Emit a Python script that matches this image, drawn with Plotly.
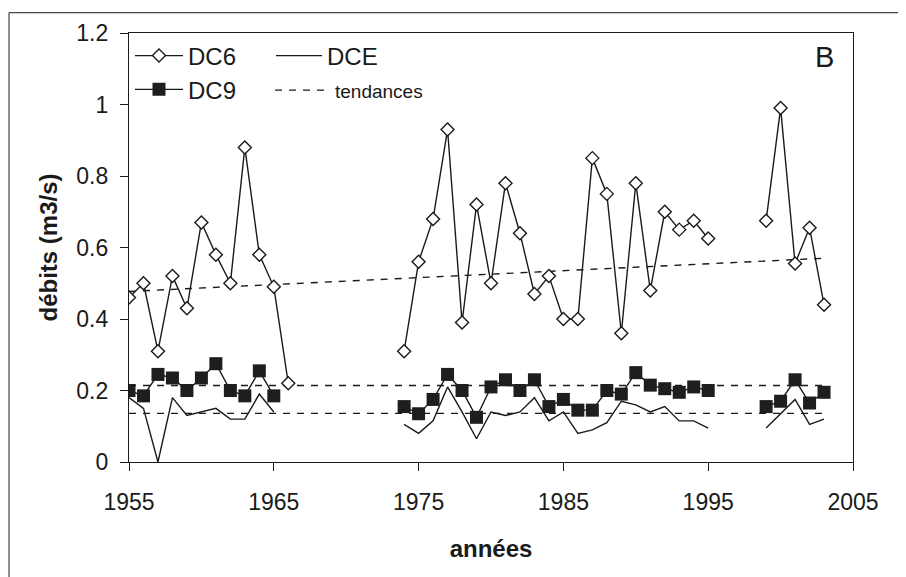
import plotly.graph_objects as go

# ---- data ----
years = list(range(1955, 2004))

dc6_vals = {
    1955: 0.46, 1956: 0.50, 1957: 0.31, 1958: 0.52, 1959: 0.43, 1960: 0.67,
    1961: 0.58, 1962: 0.50, 1963: 0.88, 1964: 0.58, 1965: 0.49, 1966: 0.22,
    1974: 0.31, 1975: 0.56, 1976: 0.68, 1977: 0.93, 1978: 0.39, 1979: 0.72,
    1980: 0.50, 1981: 0.78, 1982: 0.64, 1983: 0.47, 1984: 0.52, 1985: 0.40,
    1986: 0.40, 1987: 0.85, 1988: 0.75, 1989: 0.36, 1990: 0.78, 1991: 0.48,
    1992: 0.70, 1993: 0.65, 1994: 0.675, 1995: 0.625,
    1999: 0.675, 2000: 0.99, 2001: 0.555, 2002: 0.655, 2003: 0.44,
}
dc9_vals = {
    1955: 0.20, 1956: 0.185, 1957: 0.245, 1958: 0.235, 1959: 0.20, 1960: 0.235,
    1961: 0.275, 1962: 0.20, 1963: 0.185, 1964: 0.255, 1965: 0.185,
    1974: 0.155, 1975: 0.135, 1976: 0.175, 1977: 0.245, 1978: 0.20, 1979: 0.125,
    1980: 0.21, 1981: 0.23, 1982: 0.20, 1983: 0.23, 1984: 0.155, 1985: 0.175,
    1986: 0.145, 1987: 0.145, 1988: 0.20, 1989: 0.19, 1990: 0.25, 1991: 0.215,
    1992: 0.205, 1993: 0.195, 1994: 0.21, 1995: 0.20,
    1999: 0.155, 2000: 0.17, 2001: 0.23, 2002: 0.165, 2003: 0.195,
}
dce_vals = {
    1955: 0.18, 1956: 0.15, 1957: 0.0, 1958: 0.18, 1959: 0.13, 1960: 0.14,
    1961: 0.15, 1962: 0.12, 1963: 0.12, 1964: 0.19, 1965: 0.14,
    1974: 0.105, 1975: 0.08, 1976: 0.115, 1977: 0.21, 1978: 0.14, 1979: 0.065,
    1980: 0.14, 1981: 0.13, 1982: 0.14, 1983: 0.18, 1984: 0.115, 1985: 0.14,
    1986: 0.08, 1987: 0.09, 1988: 0.11, 1989: 0.17, 1990: 0.16, 1991: 0.14,
    1992: 0.155, 1993: 0.115, 1994: 0.115, 1995: 0.095,
    1999: 0.095, 2000: 0.135, 2001: 0.175, 2002: 0.105, 2003: 0.12,
}
dc6 = [dc6_vals.get(y) for y in years]
dc9 = [dc9_vals.get(y) for y in years]
dce = [dce_vals.get(y) for y in years]

trend_years = [1955, 2003]
trend_dc6 = [0.477, 0.570]
trend_dc9 = [0.214, 0.214]
trend_dce = [0.136, 0.136]

x_ticks = [1955, 1965, 1975, 1985, 1995, 2005]
y_ticks = [0, 0.2, 0.4, 0.6, 0.8, 1.0, 1.2]
y_ticktext = ["0", "0.2", "0.4", "0.6", "0.8", "1", "1.2"]

INK = "#1a1a1a"
FONT = "Liberation Sans, Arial, sans-serif"

fig = go.Figure()

# trend lines
dash = "7px,7px"
fig.add_trace(go.Scatter(x=trend_years, y=trend_dc6, mode="lines", name="tendances",
                         line=dict(color=INK, width=1.4, dash=dash),
                         legend="legend3", showlegend=True, hoverinfo="skip"))
fig.add_trace(go.Scatter(x=trend_years, y=trend_dc9, mode="lines", name="tendances",
                         line=dict(color=INK, width=1.4, dash=dash),
                         showlegend=False, hoverinfo="skip"))
fig.add_trace(go.Scatter(x=trend_years, y=trend_dce, mode="lines", name="tendances",
                         line=dict(color=INK, width=1.4, dash=dash),
                         showlegend=False, hoverinfo="skip"))

# DCE
fig.add_trace(go.Scatter(x=years, y=dce, mode="lines", name="DCE",
                         line=dict(color=INK, width=1.4),
                         connectgaps=False, legend="legend2"))
# DC9
fig.add_trace(go.Scatter(x=years, y=dc9, mode="lines+markers", name="DC9",
                         line=dict(color=INK, width=1.4),
                         marker=dict(symbol="square", size=13, color="#1e1e1e",
                                     line=dict(color="#1e1e1e", width=0)),
                         connectgaps=False, legend="legend4"))
# DC6
fig.add_trace(go.Scatter(x=years, y=dc6, mode="lines+markers", name="DC6",
                         line=dict(color=INK, width=1.4),
                         marker=dict(symbol="diamond", size=10, color="white",
                                     line=dict(color=INK, width=1.4)),
                         connectgaps=False, legend="legend"))

# page body has an 8px margin: figure is drawn 8px right/down
OFF = 8
W, H = 906 - OFF, 577 - OFF
L, R, T, B = 129 - OFF, 53, 30.5 - OFF, 114.5
pw = W - L - R
ph = H - T - B

def px_x(x):  # x in reference-screen pixels -> paper
    return (x - OFF - L) / pw

def px_y(y):  # y in reference-screen pixels -> paper
    return (H - B - (y - OFF)) / ph

shapes = [
    dict(type="line", xref="paper", yref="paper", x0=px_x(9), x1=px_x(910),
         y0=px_y(10), y1=px_y(10), line=dict(color="#444", width=1.2)),
    dict(type="line", xref="paper", yref="paper", x0=px_x(9), x1=px_x(9),
         y0=px_y(10), y1=px_y(580), line=dict(color="#444", width=1.2)),
]

def leg(x, y, size, iw):
    return dict(x=px_x(x), y=px_y(y), xanchor="left", yanchor="top",
                bgcolor="rgba(0,0,0,0)", font=dict(size=size, family=FONT, color=INK),
                itemwidth=iw)

fig.update_layout(
    width=W, height=H,
    margin=dict(l=L, r=R, t=T, b=B, pad=0),
    paper_bgcolor="white", plot_bgcolor="white",
    font=dict(family=FONT, color=INK, size=23),
    shapes=shapes,
    legend=leg(130, 31, 24, 48),
    legend4=leg(130, 65, 24, 48),
    legend2=leg(271, 31, 24, 46),
    legend3=leg(270, 69, 19, 55),
    annotations=[dict(text="B", x=px_x(824), y=px_y(55), xref="paper", yref="paper",
                      showarrow=False, font=dict(size=29, family=FONT, color=INK),
                      xanchor="center", yanchor="middle")],
    xaxis=dict(range=[1955, 2005], tickvals=x_ticks, ticks="outside", ticklen=8,
               tickwidth=1, tickcolor=INK, showline=True, linecolor=INK, linewidth=1.3,
               mirror=True, showgrid=False, zeroline=False,
               tickfont=dict(size=23, family=FONT), ticklabelstandoff=11,
               title=dict(text="<b>années</b>", font=dict(size=24, family=FONT), standoff=26)),
    yaxis=dict(range=[0, 1.2], tickvals=y_ticks, ticktext=y_ticktext, ticks="outside",
               ticklen=8, tickwidth=1, tickcolor=INK, showline=True, linecolor=INK,
               linewidth=1.3, mirror=True, showgrid=False, zeroline=False,
               tickfont=dict(size=23, family=FONT), ticklabelstandoff=7,
               title=dict(text="<b>débits (m3/s)</b>", font=dict(size=24, family=FONT), standoff=11)),
)

fig.write_html("out.html")
